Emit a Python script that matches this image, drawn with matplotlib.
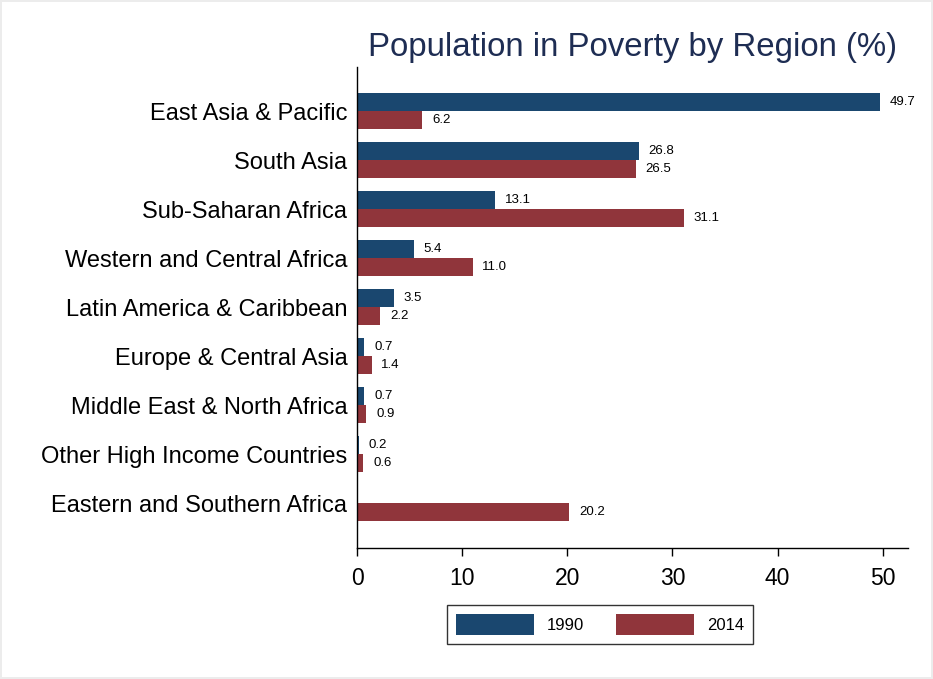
import matplotlib
matplotlib.use("Agg")
import matplotlib.pyplot as plt
import numpy as np

regions = ["East Asia & Pacific", "South Asia", "Sub-Saharan Africa",
           "Western and Central Africa", "Latin America & Caribbean",
           "Europe & Central Asia", "Middle East & North Africa",
           "Other High Income Countries", "Eastern and Southern Africa"]
v1990 = [49.7, 26.8, 13.1, 5.4, 3.5, 0.7, 0.7, 0.2, np.nan]
v2014 = [6.2, 26.5, 31.1, 11.0, 2.2, 1.4, 0.9, 0.6, 20.2]
series_labels = ["1990", "2014"]
xticks = [0, 10, 20, 30, 40, 50]

plt.rcParams['font.family'] = ['Liberation Sans', 'DejaVu Sans']

c1 = "#1a476f"
c2 = "#90353b"

fig = plt.figure(figsize=(9.33, 6.79), dpi=100)
fig.patch.set_facecolor("white")
fig.patch.set_edgecolor("#ececec")
fig.patch.set_linewidth(1.5)

ax = fig.add_axes([357/933, 1-548/679, (908-357)/933, (548-67)/679])
y = np.arange(len(regions))
h = 0.367
b1 = ax.barh(y - h/2, v1990, height=h, color=c1, label=series_labels[0])
b2 = ax.barh(y + h/2, v2014, height=h, color=c2, label=series_labels[1])

for bars, vals in ((b1, v1990), (b2, v2014)):
    for rect, v in zip(bars, vals):
        if np.isnan(v):
            continue
        ax.annotate(f"{v:.1f}", xy=(v, rect.get_y() + rect.get_height()/2),
                    xytext=(7, 0), textcoords="offset points",
                    ha="left", va="center", fontsize=9.5, color="black")

ax.set_xlim(0, 52.4)
ax.set_ylim(8.918, -0.898)
ax.set_yticks(y)
ax.set_yticklabels(regions, fontsize=17)
ax.tick_params(axis='y', length=0, pad=7)
ax.set_xticks(xticks)
ax.tick_params(axis='x', labelsize=16.5, length=6, width=1, direction='out', pad=8)
for s in ("top", "right"):
    ax.spines[s].set_visible(False)
ax.spines["left"].set_linewidth(1)
ax.spines["bottom"].set_linewidth(1)

ax.set_title("Population in Poverty by Region (%)", fontsize=23.8, color="#1e2d53", pad=8)

leg = fig.legend(handles=[b1, b2], labels=series_labels, loc="center",
                 bbox_to_anchor=(600/933, 1-624.5/679), ncol=2, fontsize=12,
                 handlelength=4.67, handleheight=1.5, frameon=True, fancybox=False,
                 edgecolor="black", columnspacing=1.9, handletextpad=0.78,
                 borderpad=0.55)
leg.get_frame().set_linewidth(1)

fig.savefig("out.png", dpi=100)
